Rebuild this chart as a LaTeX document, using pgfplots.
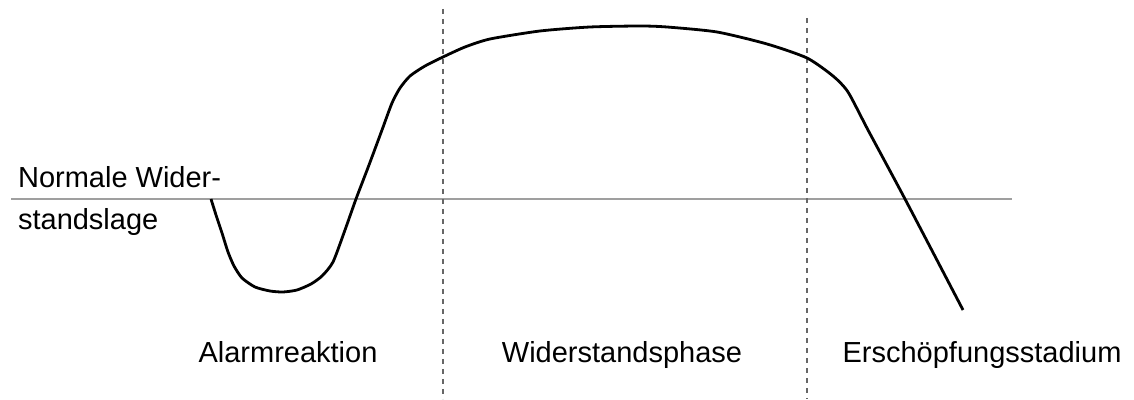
\documentclass[border=0pt]{standalone}
\usepackage{pgfplots}
\pgfplotsset{compat=1.18}
\usepackage{fontspec}
\setmainfont{Liberation Sans}
\begin{document}
\begin{tikzpicture}[lbl/.style={font=\fontsize{14.5}{17}\selectfont}]
\begin{axis}[
  hide axis, scale only axis,
  width=567pt, height=199.5pt,
  xmin=0, xmax=1134, ymin=0, ymax=399,
  y dir=reverse, clip=false,
]
% normal resistance level
\addplot[gray!75, line width=0.75pt] coordinates {(11,199)(1012,199)};
% phase borders
\addplot[black!60, line width=0.6pt, dash pattern=on 2.5pt off 2.5pt] coordinates {(443,9)(443,399)};
\addplot[black!60, line width=0.6pt, dash pattern=on 2.5pt off 2.5pt] coordinates {(807,18)(807,399)};
% resistance curve
\addplot[black, line width=1.4pt, smooth, tension=0.4] coordinates {
  (211,199)(216,215)(222,233)(228,252)(234,266)(242,278)(255,287)(270,291)
  (283,292)(297,290)(311,284)(322,276)(333,262)(345,230)(356,199)(369,165)
  (382,130)(392,103)(400,88)(410,76)(425,66)(443,57)(465,47)(490,39)
  (540,31)(590,27)(640,26)(667,27)(717,32)(767,44)(807,58)(833,76)
  (848,92)(868,130)(905,199)(963,310)};
\node[lbl, anchor=base west] at (axis cs:11,188) {Normale Wider-};
\node[lbl, anchor=base west] at (axis cs:11,230) {standslage};
\node[lbl, anchor=base] at (axis cs:288,363) {Alarmreaktion};
\node[lbl, anchor=base] at (axis cs:622,363) {Widerstandsphase};
\node[lbl, anchor=base] at (axis cs:982,363) {Erschöpfungsstadium};
\path (axis cs:0,0) rectangle (axis cs:1134,399);
\end{axis}
\end{tikzpicture}
\end{document}
